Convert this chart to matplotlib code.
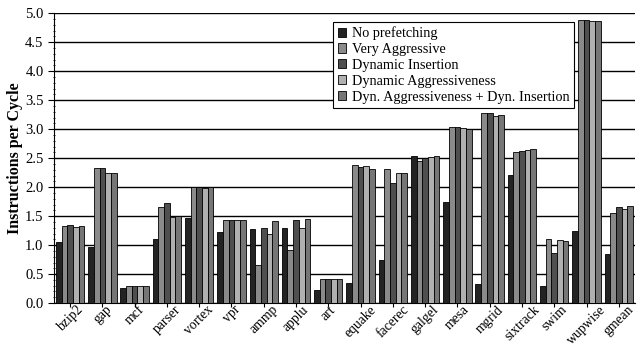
import numpy as np
import matplotlib.pyplot as plt
from matplotlib.ticker import MultipleLocator

plt.rcParams['font.family'] = ['Liberation Serif', 'DejaVu Serif']

benchmarks = ["bzip2", "gap", "mcf", "parser", "vortex", "vpr", "ammp", "applu",
              "art", "equake", "facerec", "galgel", "mesa", "mgrid", "sixtrack",
              "swim", "wupwise", "gmean"]

no_prefetch = [1.05, 0.96, 0.26, 1.10, 1.46, 1.22, 1.28, 1.29, 0.22, 0.34, 0.75,
               2.53, 1.75, 0.33, 2.21, 0.30, 1.25, 0.84]
very_aggr = [1.33, 2.33, 0.29, 1.66, 2.00, 1.43, 0.66, 0.92, 0.42, 2.38, 2.31,
             2.45, 3.03, 3.28, 2.61, 1.10, 4.88, 1.56]
dyn_ins = [1.34, 2.33, 0.29, 1.73, 2.00, 1.44, 1.30, 1.43, 0.42, 2.34, 2.07,
           2.51, 3.03, 3.27, 2.63, 0.87, 4.88, 1.65]
dyn_aggr = [1.32, 2.25, 0.29, 1.49, 1.99, 1.44, 1.20, 1.30, 0.42, 2.37, 2.25,
            2.52, 3.02, 3.22, 2.64, 1.09, 4.86, 1.63]
dyn_both = [1.33, 2.25, 0.29, 1.51, 2.00, 1.44, 1.41, 1.45, 0.42, 2.32, 2.25,
            2.54, 3.01, 3.25, 2.66, 1.07, 4.86, 1.67]

series = [no_prefetch, very_aggr, dyn_ins, dyn_aggr, dyn_both]
names = ["No prefetching", "Very Aggressive", "Dynamic Insertion",
         "Dynamic Aggressiveness", "Dyn. Aggressiveness + Dyn. Insertion"]
colors = ["#232323", "#8a8a8a", "#4f4f4f", "#b0b0b0", "#767676"]

fig = plt.figure(figsize=(6.42, 3.46), dpi=100)
ax = fig.add_axes([0.084, 0.124, 0.905, 0.838])

x = np.arange(len(benchmarks))
w = 0.176
for i, (vals, name, c) in enumerate(zip(series, names, colors)):
    ax.bar(x + (i - 2) * w, vals, w, color=c, edgecolor="black",
           linewidth=0.6, label=name, zorder=3)

ax.set_xlim(-0.5, len(benchmarks) - 0.5)
ax.set_ylim(0, 5.0)
ax.yaxis.set_major_locator(MultipleLocator(0.5))
ax.yaxis.set_minor_locator(MultipleLocator(0.1))
ax.yaxis.set_major_formatter(plt.FormatStrFormatter("%.1f"))
ax.grid(axis="y", color="black", linewidth=1.0, zorder=0)
ax.set_axisbelow(True)

ax.set_xticks(x)
ax.set_xticklabels(benchmarks, rotation=45, ha="center", fontsize=9.8)
ax.tick_params(axis="x", length=3, pad=-3)
ax.tick_params(axis="y", labelsize=10.5, length=4, direction="out")
ax.tick_params(axis="y", which="minor", length=2, direction="inout")

ax.spines["top"].set_visible(False)
ax.spines["right"].set_visible(False)

ax.set_ylabel("Instructions per Cycle", fontsize=11.5, fontweight="bold")
ax.yaxis.set_label_coords(-0.053, 0.5)

leg = ax.legend(loc="upper left", bbox_to_anchor=(0.481, 0.969), fontsize=10.3,
                frameon=True, fancybox=False, edgecolor="black", framealpha=1,
                handlelength=0.6, handleheight=0.6, handletextpad=0.4,
                labelspacing=0.2, borderpad=0.3, borderaxespad=0)
leg.get_frame().set_linewidth(0.8)
leg.set_zorder(5)

fig.savefig("out.png", dpi=100)
